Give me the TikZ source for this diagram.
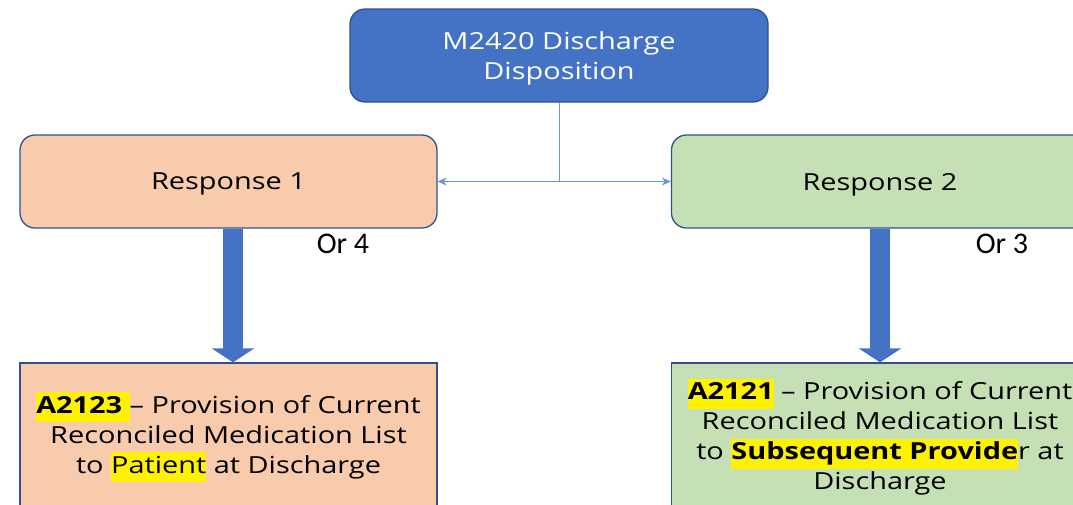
\documentclass[tikz,border=0pt]{standalone}
\usepackage{fontspec}
\setmainfont[FakeStretch=1.23]{Open Sans}
\newfontfamily\orfont{Carlito}
\usepackage{xcolor}
\usetikzlibrary{arrows.meta}
\usetikzlibrary{positioning}

\definecolor{boxblue}{HTML}{4472C4}
\definecolor{edgeblue}{HTML}{2F528F}
\definecolor{lineblue}{HTML}{6F93D3}
\definecolor{peach}{HTML}{F8CBAD}
\definecolor{sage}{HTML}{C5E0B4}

% yellow highlight behind a word
\newcommand{\hlt}[1]{{\setlength{\fboxsep}{0pt}\colorbox{yellow}{\strut #1}}}

\begin{document}
\begin{tikzpicture}[x=1pt,y=-1pt,
    rbox/.style={draw=edgeblue, line width=1.3pt, rounded corners=15pt,
                 minimum width=417pt, minimum height=93pt, align=center,
                 text depth=0pt, font=\fontsize{23.5}{30}\selectfont},
    sbox/.style={draw=edgeblue, line width=1.3pt,
                 minimum width=417pt, minimum height=148pt, align=center,
                 font=\fontsize{23.5}{30}\selectfont},
    thin arrow/.style={lineblue, line width=1pt, -{Stealth[length=9pt,width=8pt]}},
    fat arrow/.style={boxblue, line width=20pt, -{Triangle[length=14pt,width=42pt]}}]

  \useasboundingbox (0,0) rectangle (1073,504);
  \clip (0,0) rectangle (1073,504);

  % top box
  \node[rbox, fill=boxblue, text=white, minimum width=418pt] (disp) at (559,55.5)
       {M2420 Discharge\\Disposition};

  % responses
  \node[rbox, fill=peach] (resp1) at (228.5,181.5) {Response 1};
  \node[rbox, fill=sage]  (resp2) at (880,181.5) {Response 2};

  \coordinate (split) at (559,181.5);
  \draw[lineblue, line width=1pt] (disp.south) -- (split);
  \draw[thin arrow] (split) -- (resp1.east);
  \draw[thin arrow] (split) -- (resp2.west);

  % items
  \node[sbox, fill=peach] (item1) at (228.5,437)
       {\hlt{\textbf{A2123} }-- Provision of Current\\
        Reconciled Medication List\\
        to \hlt{Patient} at Discharge};
  \node[sbox, fill=sage] (item2) at (880,437)
       {\hlt{\textbf{A2121}} -- Provision of Current\\
        Reconciled Medication List\\
        to \hlt{\textbf{Subsequent Provide}}r at\\
        Discharge};

  % big arrows
  \draw[fat arrow] (resp1.south -| 233,0) -- (item1.north -| 233,0);
  \draw[fat arrow] (resp2.south -| 880,0) -- (item2.north -| 880,0);

  \node[font=\orfont\fontsize{30}{34}\selectfont] (or4) at (343,244) {Or 4};
  \node[font=\orfont\fontsize{30}{34}\selectfont] (or3) at (1002,244) {Or 3};

\end{tikzpicture}
\end{document}
